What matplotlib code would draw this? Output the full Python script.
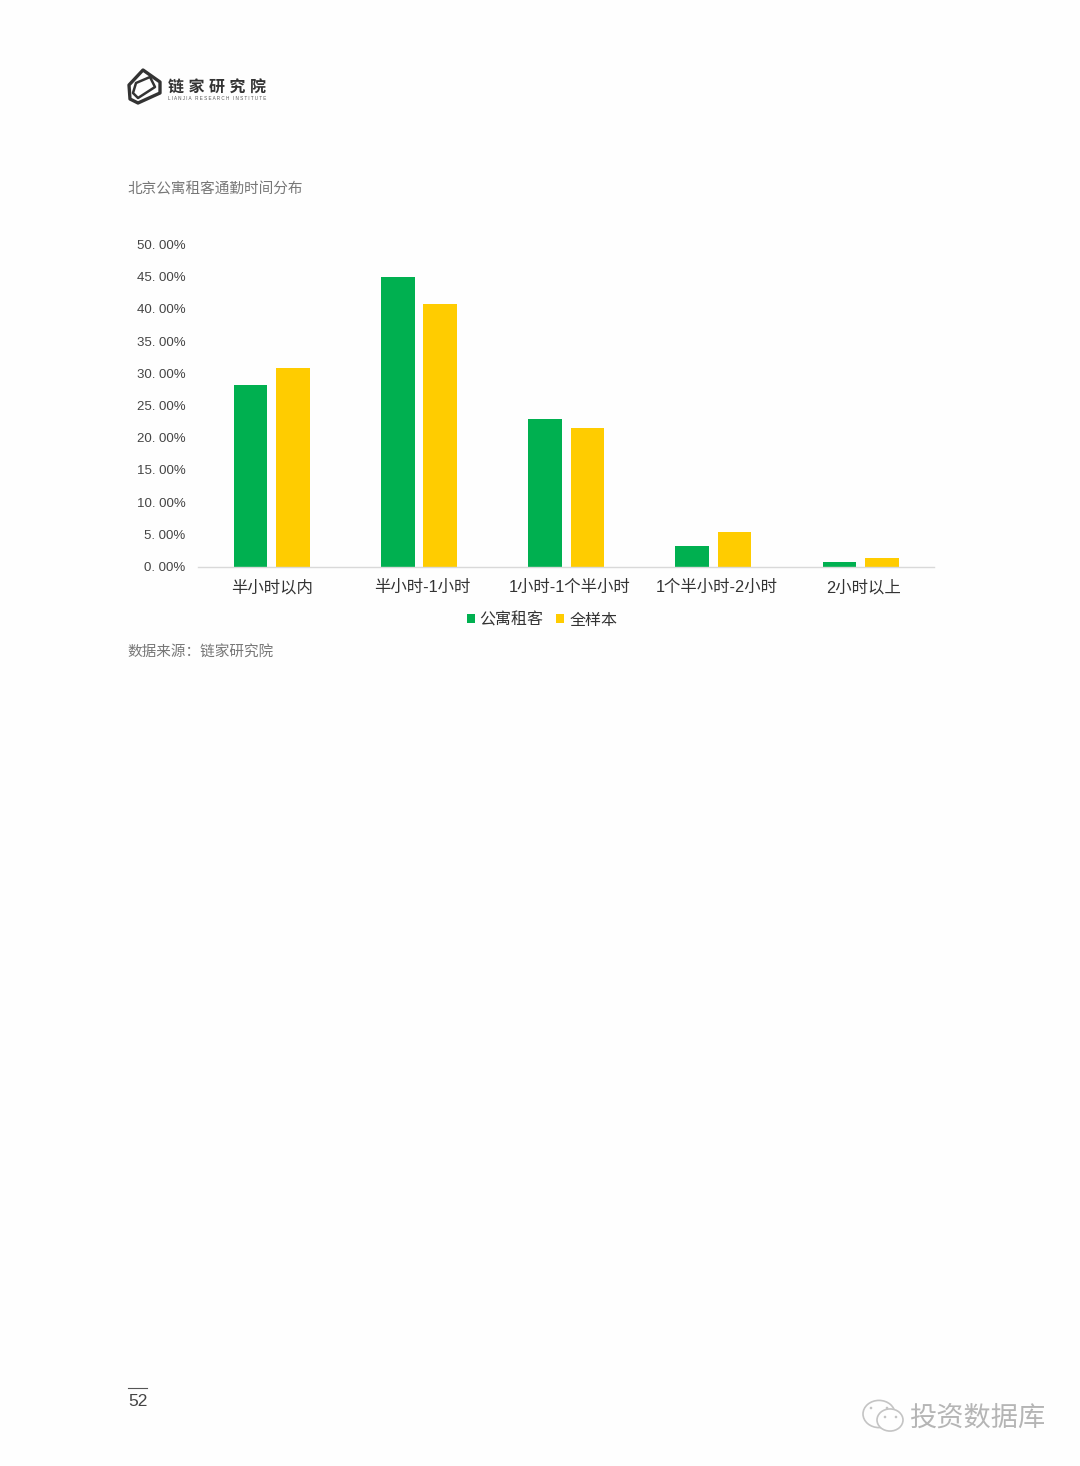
import numpy as np
import matplotlib
matplotlib.use("Agg")
import matplotlib.pyplot as plt
from matplotlib.patches import Polygon, Ellipse, Circle
from matplotlib.transforms import ScaledTranslation

plt.rcParams["font.family"] = ["Liberation Sans", "Noto Sans CJK SC", "DejaVu Sans"]

W, H = 1080, 1466

categories = ["半小时以内", "半小时-1小时", "1小时-1个半小时", "1个半小时-2小时", "2小时以上"]
renter = [28.2, 45.0, 22.9, 3.2, 0.7]
full_sample = [30.8, 40.8, 21.5, 5.4, 1.3]
y_ticks = [0, 5, 10, 15, 20, 25, 30, 35, 40, 45, 50]
y_labels = ["0. 00%", "5. 00%", "10. 00%", "15. 00%", "20. 00%", "25. 00%",
            "30. 00%", "35. 00%", "40. 00%", "45. 00%", "50. 00%"]
series_names = ["公寓租客", "全样本"]


def fx(px):
    return px / W


def fy(px):
    return 1 - px / H


fig = plt.figure(figsize=(W / 100, H / 100), dpi=100, facecolor="#fefefe")
ax = fig.add_axes([fx(198), fy(566.5), (934 - 198) / W, (566.5 - 244.5) / H])
ax.set_facecolor("none")

x = np.arange(len(categories))
ax.bar(x - 0.143, renter, width=0.228, color="#00b050", label=series_names[0])
ax.bar(x + 0.145, full_sample, width=0.228, color="#ffcc00", label=series_names[1])

ax.set_xlim(-0.5, 4.5)
ax.set_ylim(0, 50)
ax.set_xticks(x)
ax.set_xticklabels(categories, fontsize=11.8, color="#333333", va="center")
ax.set_yticks(y_ticks)
ax.set_yticklabels(y_labels, fontsize=9.5, color="#444444")
ax.tick_params(axis="both", length=0)
ax.tick_params(axis="x", pad=15)
ax.tick_params(axis="y", pad=9)
for side in ["top", "right", "left"]:
    ax.spines[side].set_visible(False)
ax.spines["bottom"].set_color("#d9d9d9")
ax.spines["bottom"].set_linewidth(1)

# the labels after the first sit a few pixels right of the category centre
for i, lab in enumerate(ax.get_xticklabels()):
    shift = 0 if i == 0 else 3.5
    lab.set_transform(lab.get_transform() + ScaledTranslation(shift / 100, 0, fig.dpi_scale_trans))

fig.legend(loc="center", bbox_to_anchor=(fx(542), fy(620)), ncol=2, frameon=False,
           fontsize=11.5, handlelength=0.5, handleheight=0.5, handletextpad=0.3,
           columnspacing=0.8, labelcolor="#333333")

fig.text(fx(127.5), fy(189.5), "北京公寓租客通勤时间分布", fontsize=10.5, color="#777777", va="center")
fig.text(fx(127.5), fy(653), "数据来源：链家研究院", fontsize=10.5, color="#777777", va="center")

# page number
fig.add_artist(plt.Line2D([fx(128), fx(147)], [fy(1388), fy(1388)], color="#555555", lw=0.8))
fig.text(fx(128), fy(1401.5), "52", fontsize=12.5, color="#444444", va="center")

# logo
overlay = fig.add_axes([0, 0, 1, 1])
overlay.set_xlim(0, W)
overlay.set_ylim(H, 0)
overlay.axis("off")
overlay.patch.set_alpha(0)
overlay.add_patch(Polygon([(143, 70), (160, 82), (160, 93), (138, 103), (130, 99), (129, 85)],
                          closed=True, fill=False, ec="#333333", lw=2.4, joinstyle="round"))
overlay.add_patch(Polygon([(150, 77), (155, 87), (138, 98), (133, 93), (136, 83)],
                          closed=True, fill=False, ec="#333333", lw=1.8, joinstyle="round"))
fig.text(fx(168), fy(88), "链 家 研 究 院", fontsize=11.5, color="#333333", va="center",
         fontweight="bold")
fig.text(fx(168), fy(99), "L I A N J I A   R E S E A R C H   I N S T I T U T E", fontsize=3.3,
         color="#555555", va="center")

# watermark
for cx, cy, r in [(879, 1414, 16), (890, 1420, 13)]:
    overlay.add_patch(Ellipse((cx, cy), r * 2, r * 1.7, fill=True, fc="#fefefe", ec="#c4c4c4", lw=1.2))
for cx, cy in [(871, 1408), (887, 1408), (885, 1417), (896, 1417)]:
    overlay.add_patch(Circle((cx, cy), 1.3, fc="#c4c4c4", ec="none"))
fig.text(fx(909), fy(1419), "投资数据库", fontsize=19.6, color="#b5b5b5", va="center")

fig.savefig("out.png", dpi=100, facecolor=fig.get_facecolor())
